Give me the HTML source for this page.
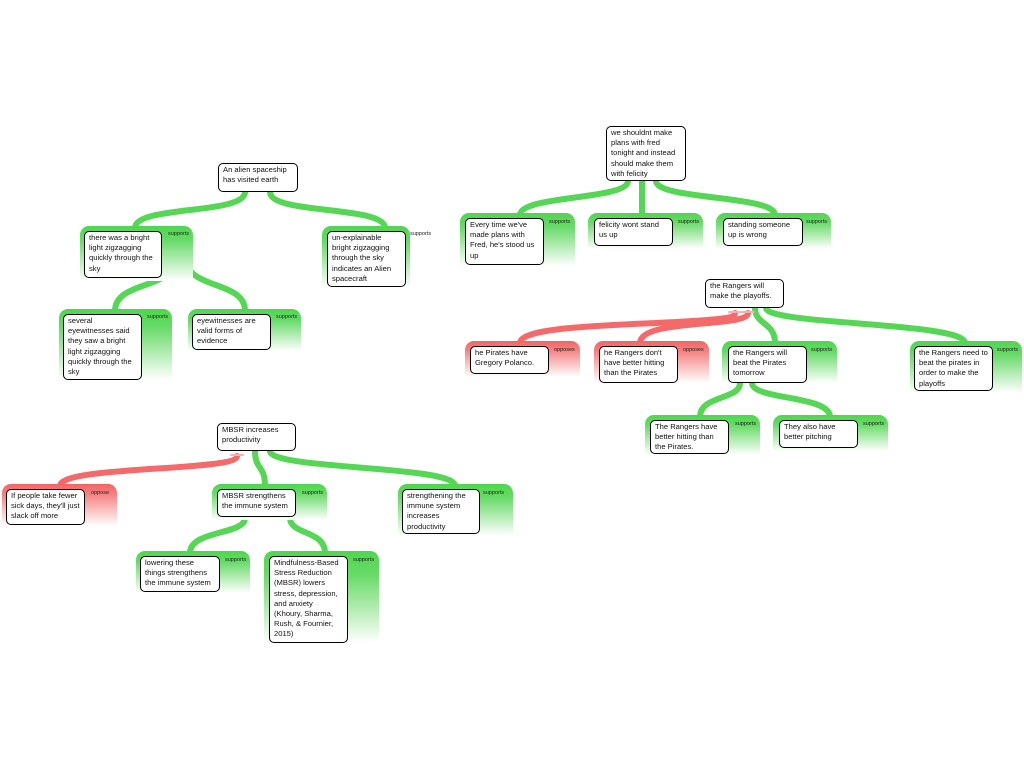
<!DOCTYPE html>
<html><head><meta charset="utf-8"><style>
body{margin:0;width:1024px;height:768px;background:#fff;position:relative;overflow:hidden;font-family:"Liberation Sans",sans-serif}
.c{position:absolute;border-radius:9px 9px 0 0}
.g{background:linear-gradient(#4fd64f 0,#66da66 25%,#fff 100%)}
.r{background:linear-gradient(#f36464 0,#f58282 25%,#fff 100%)}
.l{position:absolute;font-size:5.5px;color:#222}
.b{position:absolute;background:#fff;border:1.2px solid #000;border-radius:5px;font-size:7.6px;line-height:10.2px;padding:1px 4px;box-sizing:border-box;color:#111}
svg{position:absolute;left:0;top:0}
</style></head><body>
<svg width="1024" height="768" fill="none" stroke-linecap="round">
<g stroke="#55d655" stroke-width="6">
<path d="M245 192 C245 215 135 205 135 228"/><path d="M270 192 C270 215 385 205 385 228"/>
<path d="M176 258 C176 290 115 280 115 311"/><path d="M186 258 C186 290 245 280 245 311"/>
<path d="M628 181 C628 200 520 195 520 215"/><path d="M642 181 L642 215"/><path d="M656 181 C656 200 775 195 775 215"/>
<path d="M755 308 C755 325 775 322 775 343"/><path d="M766 308 C766 325 965 322 965 343"/>
<path d="M740 383 C740 400 700 395 700 417"/><path d="M752 383 C752 400 830 395 830 417"/>
<path d="M255 451 C255 470 265 465 265 486"/><path d="M270 451 C270 470 455 465 455 486"/>
<path d="M245 518 C245 535 190 530 190 553"/><path d="M290 518 C290 535 325 530 325 553"/>
</g>
<g stroke="#f46a6a" stroke-width="6">
<path d="M735 313 C735 328 520 318 520 343"/><path d="M748 313 C748 328 640 318 640 343"/>
<path d="M237 456 C237 472 60 465 60 486"/>
</g>
<g stroke="#f9b0b0" stroke-width="2"><path d="M729 312 H741 M742 312 H754 M231 455 H243"/></g>
</svg>

<div class="b" style="left:218px;top:163px;width:80px;height:29px">An alien spaceship has visited earth</div>
<div class="c g" style="left:80px;top:226px;width:113px;height:55px"></div><div class="l" style="left:168px;top:231px">supports</div>
<div class="b" style="left:84px;top:231px;width:78px;height:47px">there was a bright light zigzagging quickly through the sky</div>
<div class="c g" style="left:322px;top:226px;width:88px;height:62px"></div><div class="l" style="left:410px;top:231px">supports</div>
<div class="b" style="left:327px;top:231px;width:79px;height:56px">un-explainable bright zigzagging through the sky indicates an Alien spacecraft</div>
<div class="c g" style="left:59px;top:309px;width:113px;height:71px"></div><div class="l" style="left:147px;top:314px">supports</div>
<div class="b" style="left:63px;top:314px;width:79px;height:66px">several eyewitnesses said they saw a bright light zigzagging quickly through the sky</div>
<div class="c g" style="left:188px;top:309px;width:113px;height:42px"></div><div class="l" style="left:276px;top:314px">supports</div>
<div class="b" style="left:192px;top:314px;width:79px;height:36px">eyewitnesses are valid forms of evidence</div>

<div class="b" style="left:606px;top:126px;width:80px;height:55px">we shouldnt make plans with fred tonight and instead should make them with felicity</div>
<div class="c g" style="left:460px;top:213px;width:115px;height:53px"></div><div class="l" style="left:549px;top:219px">supports</div>
<div class="b" style="left:465px;top:218px;width:79px;height:47px">Every time we've made plans with Fred, he's stood us up</div>
<div class="c g" style="left:588px;top:213px;width:115px;height:36px"></div><div class="l" style="left:678px;top:219px">supports</div>
<div class="b" style="left:594px;top:218px;width:79px;height:28px">felicity wont stand us up</div>
<div class="c g" style="left:716px;top:213px;width:115px;height:36px"></div><div class="l" style="left:806px;top:219px">supports</div>
<div class="b" style="left:723px;top:218px;width:80px;height:28px">standing someone up is wrong</div>

<div class="b" style="left:705px;top:279px;width:79px;height:29px">the Rangers will make the playoffs.</div>
<div class="c r" style="left:465px;top:341px;width:115px;height:36px"></div><div class="l" style="left:554px;top:347px">opposes</div>
<div class="b" style="left:470px;top:346px;width:79px;height:28px">he Pirates have Gregory Polanco.</div>
<div class="c r" style="left:594px;top:341px;width:115px;height:42px"></div><div class="l" style="left:683px;top:347px">opposes</div>
<div class="b" style="left:599px;top:346px;width:79px;height:37px">he Rangers don't have better hitting than the Pirates</div>
<div class="c g" style="left:722px;top:341px;width:115px;height:42px"></div><div class="l" style="left:811px;top:347px">supports</div>
<div class="b" style="left:728px;top:346px;width:79px;height:37px">the Rangers will beat the Pirates tomorrow</div>
<div class="c g" style="left:910px;top:341px;width:112px;height:52px"></div><div class="l" style="left:997px;top:347px">supports</div>
<div class="b" style="left:914px;top:346px;width:79px;height:45px">the Rangers need to beat the pirates in order to make the playoffs</div>
<div class="c g" style="left:645px;top:415px;width:115px;height:40px"></div><div class="l" style="left:735px;top:421px">supports</div>
<div class="b" style="left:650px;top:420px;width:79px;height:34px">The Rangers have better hitting than the Pirates.</div>
<div class="c g" style="left:773px;top:415px;width:115px;height:36px"></div><div class="l" style="left:863px;top:421px">supports</div>
<div class="b" style="left:779px;top:420px;width:79px;height:28px">They also have better pitching</div>

<div class="b" style="left:217px;top:423px;width:79px;height:28px">MBSR increases productivity</div>
<div class="c r" style="left:2px;top:484px;width:115px;height:42px"></div><div class="l" style="left:91px;top:490px">oppose</div>
<div class="b" style="left:6px;top:489px;width:79px;height:36px">If people take fewer sick days, they'll just slack off more</div>
<div class="c g" style="left:212px;top:484px;width:115px;height:36px"></div><div class="l" style="left:302px;top:490px">supports</div>
<div class="b" style="left:217px;top:489px;width:79px;height:28px">MBSR strengthens the immune system</div>
<div class="c g" style="left:398px;top:484px;width:115px;height:52px"></div><div class="l" style="left:483px;top:490px">supports</div>
<div class="b" style="left:402px;top:489px;width:78px;height:45px">strengthening the immune system increases productivity</div>
<div class="c g" style="left:136px;top:551px;width:114px;height:42px"></div><div class="l" style="left:225px;top:557px">supports</div>
<div class="b" style="left:140px;top:556px;width:80px;height:36px">lowering these things strengthens the immune system</div>
<div class="c g" style="left:264px;top:551px;width:115px;height:92px"></div><div class="l" style="left:353px;top:557px">supports</div>
<div class="b" style="left:269px;top:556px;width:79px;height:87px">Mindfulness-Based Stress Reduction (MBSR) lowers stress, depression, and anxiety (Khoury, Sharma, Rush, &amp; Fournier, 2015)</div>
</body></html>
